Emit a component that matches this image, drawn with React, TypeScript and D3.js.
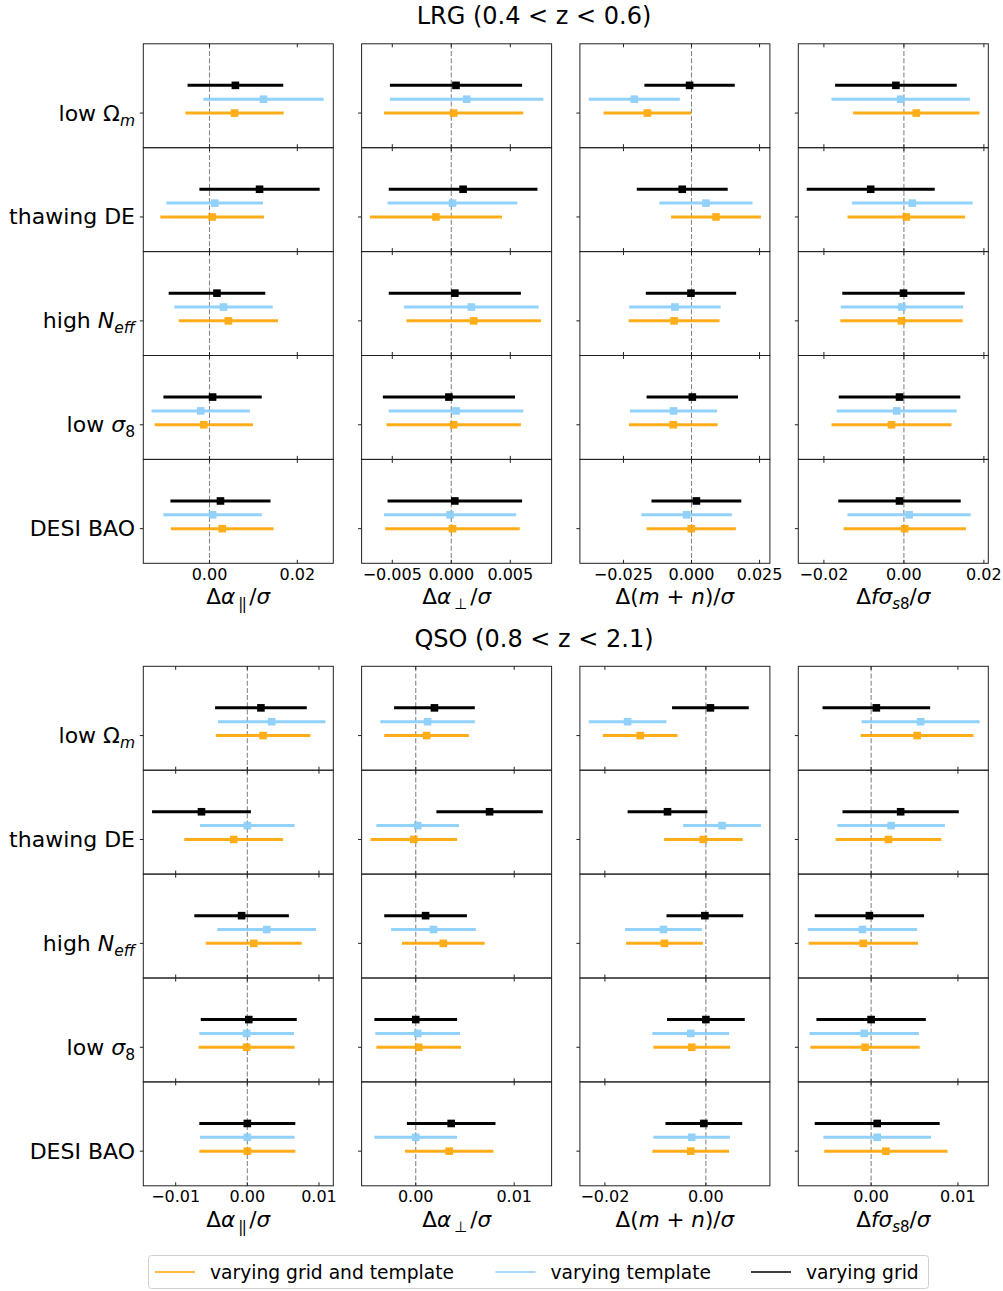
import React from 'react'
import * as d3 from 'd3'

const seriesNames = ['varying grid and template', 'varying template', 'varying grid']
const seriesColors = ['#ffa500', '#87cefa', '#000000']
const categories = ['lowOm', 'thawingDE', 'highNeff', 'lowS8', 'desiBao']

// each row: [grid and template, template, grid]
const lrgAparMean = [[0.0057, 0.0123, 0.0059], [0.0006, 0.0012, 0.0114], [0.0043, 0.0032, 0.0017], [-0.0013, -0.002, 0.0007], [0.0029, 0.0007, 0.0025]]
const lrgAparErr = [[0.0112, 0.0137, 0.0109], [0.0118, 0.011, 0.0137], [0.0113, 0.0112, 0.011], [0.0112, 0.0112, 0.0112], [0.0117, 0.0112, 0.0114]]
const lrgAperpMean = [[0.0002, 0.0013, 0.0004], [-0.0013, 0.0001, 0.001], [0.0019, 0.0017, 0.0003], [0.0002, 0.0004, -0.0002], [0.0001, -0.0001, 0.0003]]
const lrgAperpErr = [[0.0059, 0.0065, 0.0056], [0.0056, 0.0055, 0.0063], [0.0057, 0.0057, 0.0056], [0.0057, 0.0057, 0.0056], [0.0057, 0.0056, 0.0057]]
const lrgMnMean = [[-0.0162, -0.021, -0.0007], [0.009, 0.0053, -0.0034], [-0.0064, -0.0061, -0.0002], [-0.0067, -0.0066, 0.0003], [-0.0001, -0.0018, 0.0018]]
const lrgMnErr = [[0.0161, 0.0167, 0.0166], [0.0165, 0.0171, 0.0167], [0.0167, 0.0168, 0.0166], [0.0163, 0.016, 0.0168], [0.0164, 0.0166, 0.0165]]
const lrgFs8Mean = [[0.0031, -0.0008, -0.002], [0.0006, 0.0021, -0.0083], [-0.0006, -0.0005, -0.0001], [-0.0031, -0.0018, -0.0011], [0.0002, 0.0013, -0.0011]]
const lrgFs8Err = [[0.0158, 0.0173, 0.0152], [0.0147, 0.0151, 0.016], [0.0153, 0.0153, 0.0153], [0.015, 0.015, 0.0152], [0.0153, 0.0154, 0.0153]]

const qsoAparMean = [[0.0022, 0.0034, 0.0019], [-0.0019, 0.0, -0.0064], [0.0009, 0.0027, -0.0008], [-0.0001, -0.0001, 0.0002], [0.0, 0.0, 0.0]]
const qsoAparErr = [[0.0066, 0.0075, 0.0064], [0.0069, 0.0066, 0.0069], [0.0067, 0.0069, 0.0066], [0.0067, 0.0066, 0.0067], [0.0067, 0.0066, 0.0067]]
const qsoAperpMean = [[0.0011, 0.0012, 0.0019], [-0.0002, 0.0002, 0.0075], [0.0028, 0.0018, 0.001], [0.0003, 0.0002, 0.0], [0.0034, 0.0, 0.0036]]
const qsoAperpErr = [[0.0043, 0.0048, 0.0041], [0.0044, 0.0042, 0.0054], [0.0042, 0.0043, 0.0042], [0.0043, 0.0043, 0.0042], [0.0045, 0.0042, 0.0045]]
const qsoMnMean = [[-0.013, -0.0155, 0.0009], [-0.0005, 0.0032, -0.0076], [-0.0082, -0.0084, -0.0002], [-0.0028, -0.003, 0.0], [-0.003, -0.0028, -0.0004]]
const qsoMnErr = [[0.0074, 0.0077, 0.0076], [0.0078, 0.0077, 0.0079], [0.0076, 0.0076, 0.0076], [0.0076, 0.0076, 0.0077], [0.0076, 0.0076, 0.0076]]
const qsoFs8Mean = [[0.0053, 0.0057, 0.0006], [0.002, 0.0023, 0.0034], [-0.0009, -0.001, -0.0002], [-0.0007, -0.0008, 0.0], [0.0017, 0.0007, 0.0007]]
const qsoFs8Err = [[0.0065, 0.0068, 0.0062], [0.0061, 0.0062, 0.0067], [0.0063, 0.0063, 0.0063], [0.0063, 0.0063, 0.0063], [0.0071, 0.0062, 0.0072]]

const lrgDomains = [[-0.01508, 0.0282], [-0.0076, 0.0085], [-0.041, 0.0288], [-0.0264, 0.0211]]
const qsoDomains = [[-0.01452, 0.012], [-0.0055, 0.0138], [-0.02495, 0.01268], [-0.00839, 0.0135]]
const lrgTicks = [[-0.02, 0, 0.02], [-0.005, 0, 0.005], [-0.025, 0, 0.025], [-0.02, 0, 0.02]]
const qsoTicks = [[-0.01, 0, 0.01], [-0.01, 0, 0.01], [-0.02, 0, 0.02], [-0.01, 0, 0.01]]
const lrgTickDigits = [2, 3, 3, 2]
const qsoTickDigits = [2, 2, 2, 2]

const FONT = 'DejaVu Sans, sans-serif'
const colX = [143.3, 361.6, 579.9, 798.3]
const colW = 190
const rowH = 103.9

const fmtTick = (v: number, d: number) => {
  const s = Math.abs(v).toFixed(d)
  return v < 0 ? '\u2212' + s : s
}

const YLabel = ({ cat, x, y }: { cat: string; x: number; y: number }) => {
  const sub = { fontSize: 15.5, dy: 5 }
  const common = { x, y, textAnchor: 'end' as const, fontFamily: FONT, fontSize: 22, fill: '#000' }
  if (cat === 'lowOm')
    return (
      <text {...common}>
        low Ω<tspan fontStyle="italic" fontSize={sub.fontSize} dy={sub.dy}>m</tspan>
      </text>
    )
  if (cat === 'thawingDE') return <text {...common}>thawing DE</text>
  if (cat === 'highNeff')
    return (
      <text {...common}>
        high <tspan fontStyle="italic">N</tspan>
        <tspan fontStyle="italic" fontSize={sub.fontSize} dy={sub.dy}>eff</tspan>
      </text>
    )
  if (cat === 'lowS8')
    return (
      <text {...common}>
        low <tspan fontStyle="italic">σ</tspan>
        <tspan fontSize={sub.fontSize} dy={sub.dy}>8</tspan>
      </text>
    )
  return <text {...common}>DESI BAO</text>
}

const XLabel = ({ idx, x, y }: { idx: number; x: number; y: number }) => {
  const common = { x, y, textAnchor: 'middle' as const, fontFamily: FONT, fontSize: 21.5, fill: '#000' }
  if (idx === 0)
    return (
      <text {...common}>
        Δ<tspan fontStyle="italic">α</tspan>
        <tspan fontSize={15} dy={5} dx={3} letterSpacing={-1.5}>||</tspan>
        <tspan dy={-5} dx={4}>/</tspan>
        <tspan fontStyle="italic">σ</tspan>
      </text>
    )
  if (idx === 1)
    return (
      <text {...common}>
        Δ<tspan fontStyle="italic">α</tspan>
        <tspan fontSize={15} dy={5} dx={3}>⊥</tspan>
        <tspan dy={-5} dx={3}>/</tspan>
        <tspan fontStyle="italic">σ</tspan>
      </text>
    )
  if (idx === 2)
    return (
      <text {...common}>
        Δ(<tspan fontStyle="italic">m</tspan> + <tspan fontStyle="italic">n</tspan>)/<tspan fontStyle="italic">σ</tspan>
      </text>
    )
  return (
    <text {...common}>
      Δ<tspan fontStyle="italic">fσ</tspan>
      <tspan fontSize={15} dy={5}>
        <tspan fontStyle="italic">s</tspan>8
      </tspan>
      <tspan dy={-5}>/</tspan>
      <tspan fontStyle="italic">σ</tspan>
    </text>
  )
}

interface ColumnProps {
  idx: number
  top: number
  domain: number[]
  ticks: number[]
  digits: number
  means: number[][]
  errs: number[][]
}

const Column = ({ idx, top, domain, ticks, digits, means, errs }: ColumnProps) => {
  const x0 = colX[idx]
  const x = d3.scaleLinear().domain(domain).range([x0, x0 + colW])
  const inTicks = ticks.filter((t) => t >= domain[0] && t <= domain[1])
  const bottom = top + rowH * categories.length
  return (
    <g>
      {categories.map((cat, r) => {
        const rTop = top + r * rowH
        const y = d3.scaleLinear().domain([-2.5, 5]).range([rTop + rowH, rTop])
        return (
          <g key={cat}>
            <line x1={x(0)} x2={x(0)} y1={rTop} y2={rTop + rowH} stroke="#888" strokeWidth={1.1} strokeDasharray="5,2.2" />
            {seriesNames.map((s, k) => {
              const m = means[r][k]
              const e = errs[r][k]
              const cy = y(k)
              return (
                <g key={s} opacity={k === 2 ? 1 : 0.9}>
                  <line x1={x(m - e)} x2={x(m + e)} y1={cy} y2={cy} stroke={seriesColors[k]} strokeWidth={3} />
                  <rect x={x(m) - 3.8} y={cy - 3.8} width={7.6} height={7.6} fill={seriesColors[k]} />
                </g>
              )
            })}
            <rect x={x0} y={rTop} width={colW} height={rowH} fill="none" stroke="#222" strokeWidth={1} />
            {inTicks.map((t) => (
              <g key={t}>
                <line x1={x(t)} x2={x(t)} y1={rTop} y2={rTop + 3.5} stroke="#222" strokeWidth={1} />
                <line x1={x(t)} x2={x(t)} y1={rTop + rowH} y2={rTop + rowH - 3.5} stroke="#222" strokeWidth={1} />
              </g>
            ))}
            <line x1={x0 - 3.5} x2={x0} y1={y(0)} y2={y(0)} stroke="#222" strokeWidth={1} />
            {idx === 0 && <YLabel cat={cat} x={135} y={y(0) + 7.5} />}
          </g>
        )
      })}
      {inTicks.map((t) => (
        <text key={t} x={x(t)} y={bottom + 16.5} textAnchor="middle" fontFamily={FONT} fontSize={16} fill="#000">
          {fmtTick(t, digits)}
        </text>
      ))}
      <XLabel idx={idx} x={x0 + colW / 2} y={bottom + 41} />
    </g>
  )
}

const lrgMeans = [lrgAparMean, lrgAperpMean, lrgMnMean, lrgFs8Mean]
const lrgErrs = [lrgAparErr, lrgAperpErr, lrgMnErr, lrgFs8Err]
const qsoMeans = [qsoAparMean, qsoAperpMean, qsoMnMean, qsoFs8Mean]
const qsoErrs = [qsoAparErr, qsoAperpErr, qsoMnErr, qsoFs8Err]

const legendX = [155, 495.5, 751]

export default function App() {
  return (
    <svg width={1003} height={1291} style={{ position: 'absolute', left: 0, top: 0, background: '#fff' }}>
      <rect width={1003} height={1291} fill="#fff" />
      <text x={534} y={24} textAnchor="middle" fontFamily={FONT} fontSize={24}>
        LRG (0.4 &lt; z &lt; 0.6)
      </text>
      {[0, 1, 2, 3].map((i) => (
        <Column key={'l' + i} idx={i} top={43.8} domain={lrgDomains[i]} ticks={lrgTicks[i]} digits={lrgTickDigits[i]} means={lrgMeans[i]} errs={lrgErrs[i]} />
      ))}
      <text x={534} y={647} textAnchor="middle" fontFamily={FONT} fontSize={24}>
        QSO (0.8 &lt; z &lt; 2.1)
      </text>
      {[0, 1, 2, 3].map((i) => (
        <Column key={'q' + i} idx={i} top={666.3} domain={qsoDomains[i]} ticks={qsoTicks[i]} digits={qsoTickDigits[i]} means={qsoMeans[i]} errs={qsoErrs[i]} />
      ))}
      <rect x={148.5} y={1255.5} width={780} height={33} rx={3} fill="#fff" stroke="#d0d0d0" strokeWidth={1} />
      {seriesNames.map((s, k) => (
        <g key={s}>
          <line x1={legendX[k]} x2={legendX[k] + 40} y1={1272} y2={1272} stroke={seriesColors[k]} strokeWidth={1.5} />
          <text x={legendX[k] + 55} y={1278.5} fontFamily={FONT} fontSize={18.7}>
            {s}
          </text>
        </g>
      ))}
    </svg>
  )
}
